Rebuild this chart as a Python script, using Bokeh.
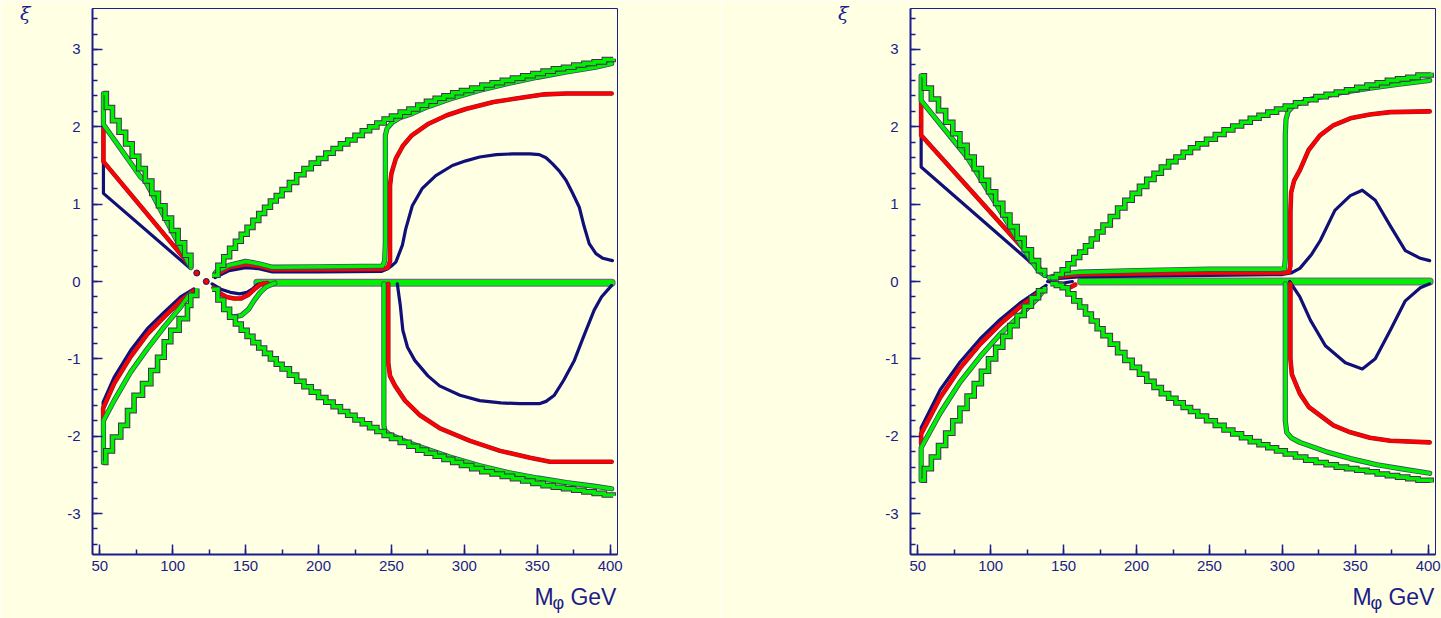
from bokeh.plotting import figure
from bokeh.layouts import row
from bokeh.models import Range1d, SingleIntervalTicker, FixedTicker, LinearAxis
from bokeh.embed import file_html
from bokeh.resources import INLINE

# ---------------- data: left panel ----------------
# upper-left wedge
L_ulw_stair_m = [52.5, 54.5, 58.7, 63.2, 67.7, 72.2, 76.7, 81.2, 85.7, 90.2, 94.7, 99.2, 103.7, 108.2, 112.5]
L_ulw_stair_xi = [2.43, 2.25, 2.08, 1.93, 1.78, 1.62, 1.46, 1.30, 1.14, 0.98, 0.82, 0.66, 0.50, 0.34, 0.18]
L_ulw_green_m = [52.5, 52.5, 78.0, 81.2, 85.7, 90.2, 94.7, 99.2, 103.7, 108.2, 112.5]
L_ulw_green_xi = [2.43, 2.03, 1.35, 1.30, 1.14, 0.98, 0.82, 0.66, 0.50, 0.34, 0.18]
L_ulw_red_m = [52.5, 52.5, 107.4, 111.0]
L_ulw_red_xi = [2.03, 1.55, 0.31, 0.22]
L_ulw_blue_m = [52.5, 52.5, 112.0]
L_ulw_blue_xi = [1.55, 1.14, 0.17]
# lower-left wedge
L_llw_stair_m = [52.5, 54.1, 58.7, 64.4, 69.0, 73.5, 79.3, 85.0, 89.6, 94.2, 98.7, 104.4, 110.1, 112.4, 116.5]
L_llw_stair_xi = [-2.34, -2.19, -2.01, -1.86, -1.67, -1.47, -1.32, -1.15, -0.98, -0.78, -0.63, -0.48, -0.31, -0.18, -0.09]
L_llw_green_m = [52.5, 52.5, 59.8, 71.2, 82.6, 94.0, 105.4, 112.0]
L_llw_green_xi = [-2.34, -1.80, -1.54, -1.17, -0.87, -0.59, -0.33, -0.16]
L_llw_red_m = [52.3, 52.3, 59.8, 71.2, 82.6, 94.0, 105.4, 114.0]
L_llw_red_xi = [-1.80, -1.64, -1.32, -0.97, -0.68, -0.46, -0.25, -0.12]
L_llw_blue_m = [52.3, 52.3, 59.8, 71.2, 82.6, 94.0, 105.4, 114.5]
L_llw_blue_xi = [-1.62, -1.56, -1.24, -0.89, -0.61, -0.40, -0.20, -0.095]
# right region, outer boundaries (grid staircases)
L_up_stair_m = [127, 131, 135, 139, 143, 147, 151, 155, 159, 163, 167, 171, 175, 180, 185, 190, 195, 200, 205, 210,
                215, 220, 225, 230, 235, 240, 245, 250, 256, 262, 268, 274, 280, 286, 292, 298, 305, 312, 319, 326,
                333, 340, 347, 354, 361, 368, 375, 382, 389, 396, 402]
L_up_stair_xi = [0.08, 0.21, 0.32, 0.43, 0.52, 0.61, 0.70, 0.79, 0.88, 0.96, 1.04, 1.11, 1.19, 1.28, 1.38, 1.46,
                 1.53, 1.59, 1.66, 1.72, 1.78, 1.83, 1.89, 1.95, 2.00, 2.05, 2.10, 2.14, 2.19, 2.23, 2.28, 2.33,
                 2.37, 2.40, 2.44, 2.47, 2.50, 2.54, 2.57, 2.60, 2.63, 2.66, 2.69, 2.72, 2.75, 2.77, 2.80, 2.82,
                 2.84, 2.87, 2.88]
L_lo_stair_m = L_up_stair_m
L_lo_stair_xi = [-0.10, -0.24, -0.36, -0.46, -0.55, -0.63, -0.71, -0.79, -0.86, -0.93, -1.00, -1.07, -1.13, -1.21,
                 -1.29, -1.36, -1.43, -1.50, -1.56, -1.62, -1.68, -1.73, -1.79, -1.84, -1.89, -1.94, -1.99, -2.03,
                 -2.08, -2.13, -2.18, -2.22, -2.26, -2.30, -2.34, -2.38, -2.42, -2.46, -2.49, -2.52, -2.55, -2.58,
                 -2.61, -2.64, -2.66, -2.68, -2.70, -2.72, -2.74, -2.76, -2.77]
# right region contours
L_up_green_m = [129.5, 138.7, 150, 159, 168.4, 200, 243.8, 245.3, 245.8, 245.8, 247, 250.7, 256, 264, 275, 290, 310,
                330, 350, 370, 390, 401]
L_up_green_xi = [0.12, 0.21, 0.26, 0.23, 0.185, 0.19, 0.20, 0.26, 0.5, 1.89, 1.98, 2.06, 2.12, 2.17, 2.26, 2.36,
                 2.47, 2.56, 2.64, 2.71, 2.77, 2.82]
L_up_red_m = [130, 138.7, 150, 159, 168.4, 200, 243, 247.5, 249, 249, 250, 253, 258, 264, 275.5, 288, 301, 320, 340,
              355, 370, 401]
L_up_red_xi = [0.09, 0.18, 0.22, 0.20, 0.155, 0.155, 0.16, 0.18, 0.26, 1.24, 1.40, 1.59, 1.76, 1.89, 2.04, 2.15,
               2.23, 2.32, 2.38, 2.42, 2.43, 2.43]
L_up_blue_m = [129, 138.7, 150, 159, 168.4, 200, 243, 247, 250, 253, 257.5, 259.8, 264.3, 271, 280.4, 291.8, 301,
               310.5, 321.9, 333, 345, 351.4, 356, 360.5, 365, 369.7, 374, 378.8, 382, 385.6, 390.2, 395, 401.5]
L_up_blue_xi = [0.05, 0.14, 0.18, 0.165, 0.125, 0.125, 0.13, 0.16, 0.20, 0.25, 0.47, 0.68, 0.98, 1.20, 1.37, 1.50,
                1.56, 1.61, 1.64, 1.65, 1.65, 1.64, 1.60, 1.52, 1.43, 1.31, 1.15, 0.96, 0.72, 0.49, 0.36, 0.30, 0.27]
L_lo_green_m = [244.8, 244.8, 245.5, 248, 252.8, 260, 270, 290, 310, 330, 350, 370, 390, 401]
L_lo_green_xi = [-0.03, -1.86, -1.93, -1.97, -2.01, -2.07, -2.14, -2.27, -2.38, -2.47, -2.54, -2.60, -2.65, -2.68]
L_lo_red_m = [247.8, 247.8, 249, 252.5, 259.3, 269.6, 283.3, 303.9, 324.5, 345, 358.7, 401]
L_lo_red_xi = [-0.03, -1.05, -1.22, -1.35, -1.54, -1.73, -1.90, -2.06, -2.19, -2.28, -2.33, -2.33]
L_lo_blue_m = [254, 256, 257.8, 261, 266, 275, 283, 297, 310.5, 325, 338, 351.4, 356, 361.7, 368, 375.4, 382, 389,
               394, 401]
L_lo_blue_xi = [-0.03, -0.30, -0.63, -0.85, -1.02, -1.22, -1.35, -1.47, -1.54, -1.57, -1.58, -1.58, -1.55, -1.47,
                -1.28, -1.02, -0.70, -0.37, -0.20, -0.05]
# near the crossing point
L_dip_blue_m = [127, 133, 139.5, 146, 151, 155, 158, 162]
L_dip_blue_xi = [-0.03, -0.10, -0.14, -0.16, -0.14, -0.09, -0.04, -0.02]
L_dip_red_m = [128, 133, 137, 142, 147, 152, 156, 160, 165]
L_dip_red_xi = [-0.08, -0.16, -0.20, -0.22, -0.22, -0.17, -0.10, -0.04, -0.02]
L_dip_green_m = [141, 147, 152, 156, 160, 164, 170]
L_dip_green_xi = [-0.46, -0.44, -0.36, -0.24, -0.14, -0.07, -0.02]
L_mid_m = [158, 401]
L_mid_xi = [-0.015, -0.015]
L_dot_m = [116.5, 123.0]
L_dot_xi = [0.11, 0.0]

# ---------------- data: right panel ----------------
R_ulw_stair_m = [52.3, 54.5, 59.3, 64.2, 69.1, 74.0, 78.9, 83.8, 88.7, 93.6, 98.5, 103.4, 108.3, 113.2, 118.1, 123.0,
                 127.9, 132.8, 137.0]
R_ulw_stair_xi = [2.66, 2.50, 2.36, 2.21, 2.06, 1.91, 1.76, 1.61, 1.46, 1.31, 1.16, 1.01, 0.86, 0.71, 0.56, 0.41,
                  0.27, 0.14, 0.08]
R_ulw_green_m = [52.3, 52.3, 83.7, 88.7, 93.6, 98.5, 103.4, 108.3, 113.2, 118.1, 123.0, 127.9, 132.8, 137.0]
R_ulw_green_xi = [2.66, 2.34, 1.61, 1.46, 1.31, 1.16, 1.01, 0.86, 0.71, 0.56, 0.41, 0.27, 0.14, 0.08]
R_ulw_red_m = [52.3, 52.3, 131.7, 135.0]
R_ulw_red_xi = [2.34, 1.89, 0.23, 0.12]
R_ulw_blue_m = [52.3, 52.3, 138.5]
R_ulw_blue_xi = [1.89, 1.48, 0.065]
R_llw_stair_m = R_ulw_stair_m
R_llw_stair_xi = [-2.57, -2.42, -2.27, -2.12, -1.96, -1.80, -1.64, -1.48, -1.32, -1.16, -1.00, -0.85, -0.71, -0.57,
                  -0.44, -0.32, -0.21, -0.12, -0.07]
R_llw_green_m = [52.3, 52.3, 65.4, 79.0, 92.8, 106.5, 120.0, 132.0, 137.0]
R_llw_green_xi = [-2.57, -2.15, -1.70, -1.30, -0.97, -0.68, -0.44, -0.22, -0.10]
R_llw_red_m = [52.3, 52.3, 65.4, 79.0, 92.8, 106.5, 120.0, 134.0]
R_llw_red_xi = [-2.10, -1.97, -1.50, -1.12, -0.81, -0.55, -0.33, -0.13]
R_llw_blue_m = [52.3, 52.3, 65.4, 79.0, 92.8, 106.5, 120.0, 134.0, 138.0]
R_llw_blue_xi = [-1.95, -1.89, -1.40, -1.04, -0.74, -0.49, -0.28, -0.10, -0.05]
R_up_stair_m = [141, 145, 149, 153, 157, 161, 165, 169, 173, 177, 182, 187, 192, 197, 202, 207, 212, 217, 222, 227,
                232, 237, 242, 248, 254, 260, 266, 272, 278, 284, 290, 296, 302, 309, 316, 323, 330, 337, 344, 351,
                358, 365, 372, 379, 386, 393, 402]
R_up_stair_xi = [0.05, 0.09, 0.15, 0.23, 0.31, 0.38, 0.46, 0.55, 0.64, 0.73, 0.84, 0.95, 1.05, 1.14, 1.23, 1.32,
                 1.40, 1.48, 1.55, 1.61, 1.67, 1.73, 1.78, 1.84, 1.90, 1.96, 2.01, 2.06, 2.11, 2.15, 2.19, 2.23,
                 2.27, 2.31, 2.35, 2.39, 2.42, 2.45, 2.48, 2.51, 2.54, 2.57, 2.60, 2.62, 2.64, 2.67, 2.70]
R_lo_stair_m = R_up_stair_m
R_lo_stair_xi = [-0.03, -0.05, -0.08, -0.16, -0.25, -0.33, -0.42, -0.51, -0.61, -0.70, -0.81, -0.92, -1.02, -1.11,
                 -1.20, -1.29, -1.37, -1.45, -1.51, -1.57, -1.63, -1.68, -1.74, -1.80, -1.86, -1.92, -1.97, -2.02,
                 -2.07, -2.11, -2.15, -2.19, -2.23, -2.27, -2.31, -2.34, -2.37, -2.40, -2.42, -2.44, -2.46, -2.49,
                 -2.51, -2.53, -2.55, -2.57, -2.60]
R_up_green_m = [140, 150, 160, 200, 250, 298, 301.5, 302, 302, 302.5, 304, 308, 320, 340, 360, 380, 401]
R_up_green_xi = [0.05, 0.10, 0.12, 0.14, 0.16, 0.16, 0.17, 0.3, 1.90, 2.10, 2.20, 2.28, 2.36, 2.44, 2.50, 2.55, 2.60]
R_up_red_m = [142, 150, 160, 200, 250, 300, 304.5, 305.5, 305.5, 306, 308, 312, 318, 325.8, 335, 346.6, 360, 374, 401]
R_up_red_xi = [0.04, 0.07, 0.09, 0.10, 0.11, 0.11, 0.12, 0.2, 0.90, 1.15, 1.30, 1.44, 1.70, 1.89, 2.02, 2.11, 2.16,
               2.19, 2.20]
R_up_blue_m = [141, 160, 200, 250, 300, 306, 312, 320, 326, 336, 346.6, 354.8, 363.7, 374, 384.3, 394.6, 401]
R_up_blue_xi = [0.03, 0.06, 0.07, 0.08, 0.09, 0.11, 0.17, 0.35, 0.53, 0.92, 1.11, 1.18, 1.05, 0.72, 0.40, 0.30, 0.27]
R_lo_green_m = [302, 302, 303, 306, 312, 330, 346.6, 365, 380.9, 401]
R_lo_green_xi = [-0.03, -1.80, -1.95, -2.02, -2.08, -2.20, -2.29, -2.37, -2.42, -2.48]
R_lo_red_m = [305.5, 305.5, 306.5, 312, 318, 325.8, 335, 346.6, 360, 374, 401]
R_lo_red_xi = [-0.03, -1.00, -1.20, -1.45, -1.62, -1.73, -1.86, -1.95, -2.02, -2.06, -2.08]
R_lo_blue_m = [305, 312, 319.2, 329.5, 343.2, 354.8, 363.7, 374, 384.3, 394.6, 401]
R_lo_blue_xi = [0.0, -0.20, -0.50, -0.83, -1.05, -1.13, -1.00, -0.63, -0.25, -0.08, -0.03]
R_dip_blue_m = [139, 144, 150, 156]
R_dip_blue_xi = [0.0, -0.02, -0.02, 0.0]
R_dip_red_m = [146, 150, 154, 158]
R_dip_red_xi = [-0.03, -0.07, -0.08, -0.04]
R_dip_green_m = [143, 148, 152]
R_dip_green_xi = [-0.01, -0.03, -0.08]
R_mid_m = [162, 401]
R_mid_xi = [0.0, 0.0]

X_RANGE = (45, 405)
Y_RANGE = (-3.53, 3.53)
Y_TICK_TEXT = {-3: "-3", -2: "-2", -1: "-1"}
XLABEL_POS = [354.7, 388.5]
XLABEL_TEXT = ["M", "GeV"]
XSUB_POS = [364.4]
XSUB_TEXT = ["φ"]
YLABEL_POS = [3.47]
YLABEL_TEXT = ["ξ"]

# ---------------- styling ----------------
BG = "#ffffe4"
NAVY = "#1c1c8a"
BLUE = "#101078"
RED = "#ff0000"
GREEN = "#00f000"
FONT = "Liberation Sans"


def line(p, m, xi, color, w, edge=None, ew=None):
    if edge is not None:
        p.line(m, xi, line_color=edge, line_width=ew, line_join="round", line_cap="round")
    p.line(m, xi, line_color=color, line_width=w, line_join="round", line_cap="round")


def stair(p, m, xi):
    p.step(m, xi, mode="after", line_color="#4a2a5a", line_width=5.6, line_join="miter")
    p.step(m, xi, mode="after", line_color=GREEN, line_width=3.6, line_join="miter")


def text_axis(p, side, ticks, labels, size, standoff, style="normal", font=FONT):
    ax = LinearAxis(ticker=FixedTicker(ticks=ticks), major_label_overrides=dict(zip(ticks, labels)),
                    axis_line_color=None, major_tick_line_color=None, minor_tick_line_color=None,
                    major_tick_in=0, major_tick_out=0, minor_tick_in=0, minor_tick_out=0,
                    major_label_text_font=font, major_label_text_font_size=size,
                    major_label_text_font_style=style, major_label_text_color=NAVY,
                    major_label_standoff=standoff)
    p.add_layout(ax, side)


def make_fig(width, left, right):
    p = figure(width=width, height=618, output_backend="svg", toolbar_location=None,
               x_range=Range1d(*X_RANGE), y_range=Range1d(*Y_RANGE),
               min_border_left=left, min_border_right=right, min_border_top=8, min_border_bottom=64)
    p.background_fill_color = BG
    p.border_fill_color = BG
    p.grid.visible = False
    p.outline_line_color = NAVY
    p.outline_line_width = 1
    p.xaxis.ticker = SingleIntervalTicker(interval=50, num_minor_ticks=2)
    p.yaxis.ticker = SingleIntervalTicker(interval=1, num_minor_ticks=5)
    p.yaxis.major_label_overrides = Y_TICK_TEXT
    for ax in (p.xaxis, p.yaxis):
        ax.axis_line_color = NAVY
        ax.axis_line_width = 2
        ax.major_tick_line_color = NAVY
        ax.minor_tick_line_color = NAVY
        ax.major_tick_line_width = 1.5
        ax.minor_tick_line_width = 1.5
        ax.major_tick_in = 10
        ax.major_tick_out = 0
        ax.minor_tick_in = 5
        ax.minor_tick_out = 0
        ax.major_label_text_font = FONT
        ax.major_label_text_font_size = "15px"
        ax.major_label_text_color = NAVY
    p.yaxis.major_label_standoff = 12
    p.xaxis.major_label_standoff = 6
    # axis titles drawn as extra label-only axes
    text_axis(p, "left", YLABEL_POS, YLABEL_TEXT, "19px", 34, "italic", "DejaVu Serif")
    text_axis(p, "below", XLABEL_POS, XLABEL_TEXT, "23px", 10)
    text_axis(p, "below", XSUB_POS, XSUB_TEXT, "18px", -20)
    return p


def draw_panel(p, d):
    for key in ("ulw", "llw"):
        line(p, d[key + "_blue_m"], d[key + "_blue_xi"], BLUE, 3.2)
        line(p, d[key + "_red_m"], d[key + "_red_xi"], RED, 3.6, "#7a1a3a", 4.6)
        line(p, d[key + "_green_m"], d[key + "_green_xi"], GREEN, 3.6, "#3a4a6a", 5.2)
        stair(p, d[key + "_stair_m"], d[key + "_stair_xi"])
    line(p, d["mid_m"], d["mid_xi"], GREEN, 5.5, "#707080", 8)
    line(p, d["up_blue_m"], d["up_blue_xi"], BLUE, 3.2)
    line(p, d["lo_blue_m"], d["lo_blue_xi"], BLUE, 3.2)
    line(p, d["dip_blue_m"], d["dip_blue_xi"], BLUE, 3.2)
    line(p, d["up_red_m"], d["up_red_xi"], RED, 3.6, "#7a1a3a", 4.6)
    line(p, d["lo_red_m"], d["lo_red_xi"], RED, 3.6, "#7a1a3a", 4.6)
    line(p, d["dip_red_m"], d["dip_red_xi"], RED, 3.6, "#7a1a3a", 4.6)
    line(p, d["up_green_m"], d["up_green_xi"], GREEN, 3.6, "#3a4a6a", 5.2)
    line(p, d["lo_green_m"], d["lo_green_xi"], GREEN, 3.6, "#3a4a6a", 5.2)
    line(p, d["dip_green_m"], d["dip_green_xi"], GREEN, 3.6, "#3a4a6a", 5.2)
    stair(p, d["up_stair_m"], d["up_stair_xi"])
    stair(p, d["lo_stair_m"], d["lo_stair_xi"])


L = {k[2:]: v for k, v in dict(globals()).items() if k.startswith("L_")}
R = {k[2:]: v for k, v in dict(globals()).items() if k.startswith("R_")}

p1 = make_fig(720, 92, 103)
draw_panel(p1, L)
p1.scatter(L_dot_m, L_dot_xi, size=6, fill_color=RED, line_color=BLUE, line_width=1)

p2 = make_fig(721, 190, 6)
draw_panel(p2, R)

layout = row(p1, p2, spacing=0)
open("out.html", "w").write(file_html(layout, INLINE))
